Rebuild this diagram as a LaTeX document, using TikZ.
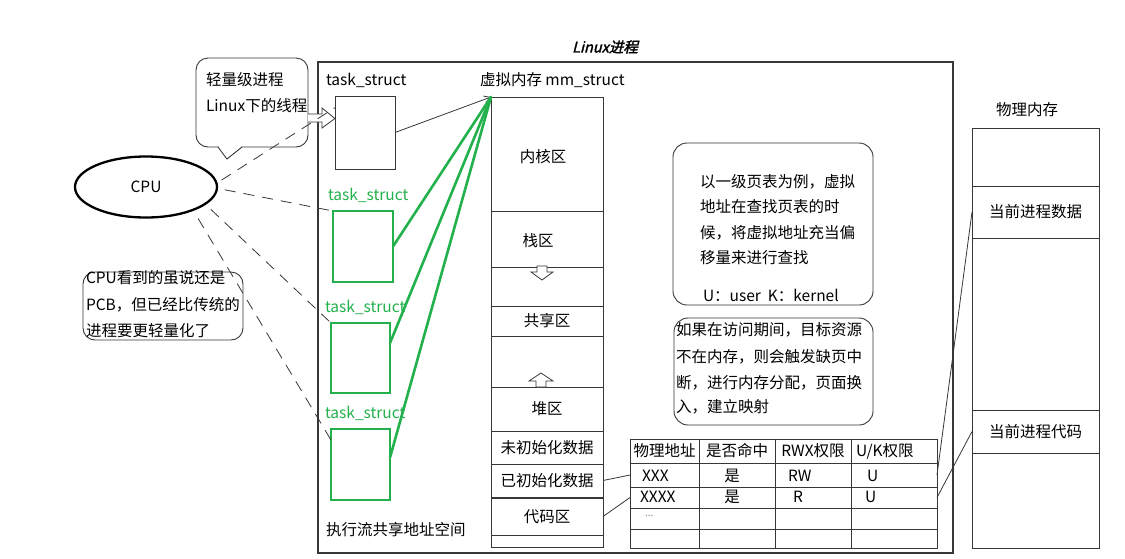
\documentclass[tikz,border=0pt]{standalone}
\usepackage{fontspec}
\setmainfont{Noto Sans CJK SC}
\newfontfamily\tfont[FakeSlant=0.25,FakeBold=2]{Noto Sans CJK SC}
\usetikzlibrary{shapes.geometric,calc,arrows.meta}
\definecolor{gr}{RGB}{34,177,76}
\definecolor{ln}{RGB}{55,55,55}
\begin{document}
\begin{tikzpicture}[x=1pt,y=-1pt,
  every node/.style={font=\fontsize{15.5}{18}\selectfont, inner sep=0pt, outer sep=0pt},
  box/.style={draw=ln, line width=0.9pt},
  gbox/.style={draw=gr, line width=2.6pt},
  glink/.style={draw=gr, line width=2.6pt, line cap=round},
  dline/.style={draw=ln, line width=0.8pt, dash pattern=on 11pt off 8pt},
  link/.style={draw=ln, line width=0.8pt},
  lbl/.style={anchor=west},
  note/.style={draw=ln, line width=0.9pt, rounded corners=14pt}]
\useasboundingbox (0,0) rectangle (1125,558);

% title and main process box
\node (title) at (605,47) {\tfont\fontsize{14.5}{17}\selectfont Linux进程};
\node[box, line width=1.1pt, minimum width=635, minimum height=491] (main) at (635.5,307.5) {};

% task_struct boxes
\node[lbl] (tsl0) at (326,80) {task\_struct};
\node[box, minimum width=60, minimum height=73] (ts0) at (365,132.5) {};
\node[lbl, text=gr] (tsl1) at (328,195) {task\_struct};
\node[gbox, minimum width=60, minimum height=71] (g1) at (363,246.5) {};
\node[lbl, text=gr] (tsl2) at (325,307) {task\_struct};
\node[gbox, minimum width=59, minimum height=70] (g2) at (360.5,358) {};
\node[lbl, text=gr] (tsl3) at (325,413) {task\_struct};
\node[gbox, minimum width=59, minimum height=71] (g3) at (360.5,464.5) {};
\node[lbl] (share) at (326,530) {执行流共享地址空间};

% virtual memory
\node[lbl] (vml) at (480,80) {虚拟内存 mm\_struct};
\node[box, minimum width=112, minimum height=450] (vm) at (547,322) {};
\draw[link] (491,211) -- (603,211);
\draw[link] (491,267) -- (603,267);
\node (kern) at (543,157) {内核区};
\node (stack) at (538,241) {栈区};
\node[box, minimum width=112, minimum height=30] (shr) at (547,321) {共享区};
\node[box, minimum width=112, minimum height=44] (heap) at (547,409) {堆区};
\node[box, minimum width=112, minimum height=33] (uninit) at (547,447.5) {未初始化数据};
\node[box, minimum width=112, minimum height=33] (init) at (547,480.5) {已初始化数据};
\node[box, minimum width=112, minimum height=37] (code) at (547,516.5) {代码区};
\draw[link, fill=white] (537,266) -- (547,266) -- (547,272) -- (553,272) -- (542,280) -- (531,272) -- (537,272) -- cycle;
\draw[link, fill=white] (536,387) -- (546,387) -- (546,381) -- (553,381) -- (541,373) -- (529,381) -- (536,381) -- cycle;

% links task_struct -> mm_struct
\draw[link, -{Straight Barb[length=6pt,width=7pt]}] (ts0.east) -- (vm.north west);
\draw[glink] (g1.east) -- (vm.north west);
\draw[glink] ($(g2.east)+(0,-15)$) -- (vm.north west);
\draw[glink] ($(g3.east)+(0,-7)$) -- (vm.north west);

% bubble
\node[note, rounded corners=12pt, minimum width=112, minimum height=89] (bub) at (252,102.5) {};
\fill[white] (219,145.5) rectangle (241,148.6);
\draw[link, line width=0.9pt] (218,147) -- (227,159) -- (242,147);
\node[lbl] (bt1) at (206,80) {轻量级进程};
\node[lbl] (bt2) at (206,106) {Linux下的线程};
\draw[link, fill=white] (bub.east |- 0,114) -- (322,114) -- (322,108) -- ($(ts0.west)+(0,-14)$) -- (322,128) -- (322,122) -- (bub.east |- 0,122);

% CPU
\node[draw=black, ellipse, line width=2.3pt, minimum width=142, minimum height=61] (cpu) at (146,187) {CPU};
\draw[dline, shorten <=6pt] (cpu.3) -- ($(ts0.north west)!0.16!(ts0.south west)$);
\draw[dline, shorten <=8pt] (cpu.-1) -- (g1.north west);
\draw[dline, shorten <=8pt] (cpu.-16) -- (g2.north west);
\draw[dline, shorten <=10pt] (cpu.-26) -- ($(g3.north west)+(0,11)$);

% CPU note
\node[note, rounded corners=12pt, minimum width=160, minimum height=68] (cnote) at (163,306) {};
\node[lbl] (cn1) at (86,278) {CPU看到的虽说还是};
\node[lbl] (cn2) at (86,305) {PCB，但已经比传统的};
\node[lbl] (cn3) at (86,331) {进程要更轻量化了};

% info notes
\node[note, minimum width=200, minimum height=162] (info1) at (773,224) {};
\node[lbl] (i11) at (700,182) {以一级页表为例，虚拟};
\node[lbl] (i12) at (700,207) {地址在查找页表的时};
\node[lbl] (i13) at (700,233) {候，将虚拟地址充当偏};
\node[lbl] (i14) at (700,258) {移量来进行查找};
\node[lbl] (i15) at (703,295) {U：user\ \ K：kernel};
\node[note, minimum width=199, minimum height=107] (info2) at (773.5,371.5) {};
\node[lbl] (i21) at (676,330) {如果在访问期间，目标资源};
\node[lbl] (i22) at (676,357) {不在内存，则会触发缺页中};
\node[lbl] (i23) at (676,383) {断，进行内存分配，页面换};
\node[lbl] (i24) at (676,407) {入，建立映射};

% page table
\draw[box] (630,439) rectangle (937,548);
\foreach \y in {463,487,508,529} \draw[link] (630,\y) -- (937,\y);
\foreach \x in {699,775,851} \draw[link] (\x,439) -- (\x,548);
\node (h1) at (664.5,451) {物理地址};
\node (h2) at (737,451) {是否命中};
\node (h3) at (813,451) {RWX权限};
\node[lbl] (h4) at (856,451) {U/K权限};
\node[minimum width=307, minimum height=24] (row1) at (783.5,475) {};
\node[minimum width=307, minimum height=21] (row2) at (783.5,497.5) {};
\node[lbl] (r11) at (642,476) {XXX};
\node (r12) at (732,476) {是};
\node[lbl] (r13) at (788,476) {RW};
\node[lbl] (r14) at (867,476) {U};
\node[lbl] (r21) at (640,497) {XXXX};
\node (r22) at (732,497) {是};
\node[lbl] (r23) at (793,497) {R};
\node[lbl] (r24) at (865,497) {U};
\node[lbl, font=\fontsize{10}{12}\selectfont, text=gray] (r31) at (645,516) {...};

% physical memory
\node (pml) at (1027,110) {物理内存};
\node[box, minimum width=127, minimum height=420] (phys) at (1035.5,338) {};
\node[box, minimum width=127, minimum height=52] (pdata) at (1035.5,212) {当前进程数据};
\node[box, minimum width=127, minimum height=43] (pcode) at (1035.5,431.5) {当前进程代码};

% mapping links
\draw[link] (init.east) -- (row1.west);
\draw[link] (code.east) -- (row2.west);
\draw[link] (row1.east) -- (pdata.west);
\draw[link] (row2.east) -- (pcode.west);
\end{tikzpicture}
\end{document}
